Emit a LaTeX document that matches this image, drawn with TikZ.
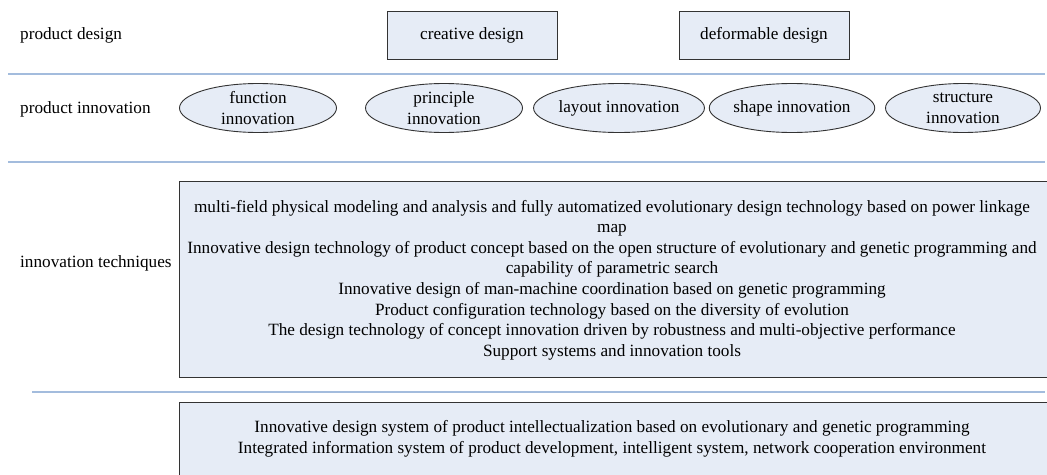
\documentclass[tikz,border=0pt]{standalone}
\usepackage{fontspec}
\setmainfont{Liberation Serif}
\usetikzlibrary{shapes.geometric}
\definecolor{boxfill}{HTML}{E6ECF6}
\definecolor{sepline}{HTML}{A3BCDD}
\definecolor{boxline}{HTML}{333333}
\begin{document}
\begin{tikzpicture}[x=1pt,y=-1pt,
  every node/.style={font=\fontsize{17.2}{20.6}\selectfont},
  lbl/.style={anchor=west,inner sep=0pt},
  rbox/.style={draw=boxline,fill=boxfill,line width=0.9pt,inner sep=0pt,minimum width=170pt,minimum height=48pt},
  ell/.style={ellipse,draw=boxline,fill=boxfill,line width=0.9pt,inner sep=0pt,minimum height=49pt,align=center},
  sep/.style={draw=sepline,line width=1.6pt},
  bigbox/.style={draw=boxline,fill=boxfill,line width=0.9pt},
  btext/.style={align=center,inner sep=0pt}]
\useasboundingbox (0,0) rectangle (1047,474);
% labels
\node[lbl] (l1) at (20,35) {product design};
\node[lbl] (l2) at (20,109) {product innovation};
\node[lbl] (l3) at (20,263) {innovation techniques};
% design boxes
\node[rbox] (cd) at (472,35) {creative design};
\node[rbox] (dd) at (764,35) {deformable design};
% separators
\coordinate (s1a) at (8,74); \coordinate (s1b) at (1045,74);
\coordinate (s2a) at (8,162); \coordinate (s2b) at (1045,162);
\coordinate (s3a) at (32,392); \coordinate (s3b) at (1045,392);
\draw[sep] (s1a) -- (s1b);
\draw[sep] (s2a) -- (s2b);
\draw[sep] (s3a) -- (s3b);
% ellipses
\node[ell,minimum width=157pt] (e1) at (258,108) {function\\innovation};
\node[ell,minimum width=157pt] (e2) at (444,108) {principle\\innovation};
\node[ell,minimum width=158pt] (e3) at (619,108) {layout innovation};
\node[ell,minimum width=156pt] (e4) at (792,108) {shape innovation};
\node[ell,minimum width=155pt] (e5) at (963,108) {structure\\innovation};
% big boxes
\draw[bigbox] (179,181) rectangle (1060,377);
\draw[bigbox] (179,402) rectangle (1060,490);
\node[btext] (t1) at (612,280) {multi-field physical modeling and analysis and fully automatized evolutionary design technology based on power linkage\\
map\\
Innovative design technology of product concept based on the open structure of evolutionary and genetic programming and\\
capability of parametric search\\
Innovative design of man-machine coordination based on genetic programming\\
Product configuration technology based on the diversity of evolution\\
The design technology of concept innovation driven by robustness and multi-objective performance\\
Support systems and innovation tools};
\node[btext] (t2) at (612,439) {Innovative design system of product intellectualization based on evolutionary and genetic programming\\
Integrated information system of product development, intelligent system, network cooperation environment};
\end{tikzpicture}
\end{document}
